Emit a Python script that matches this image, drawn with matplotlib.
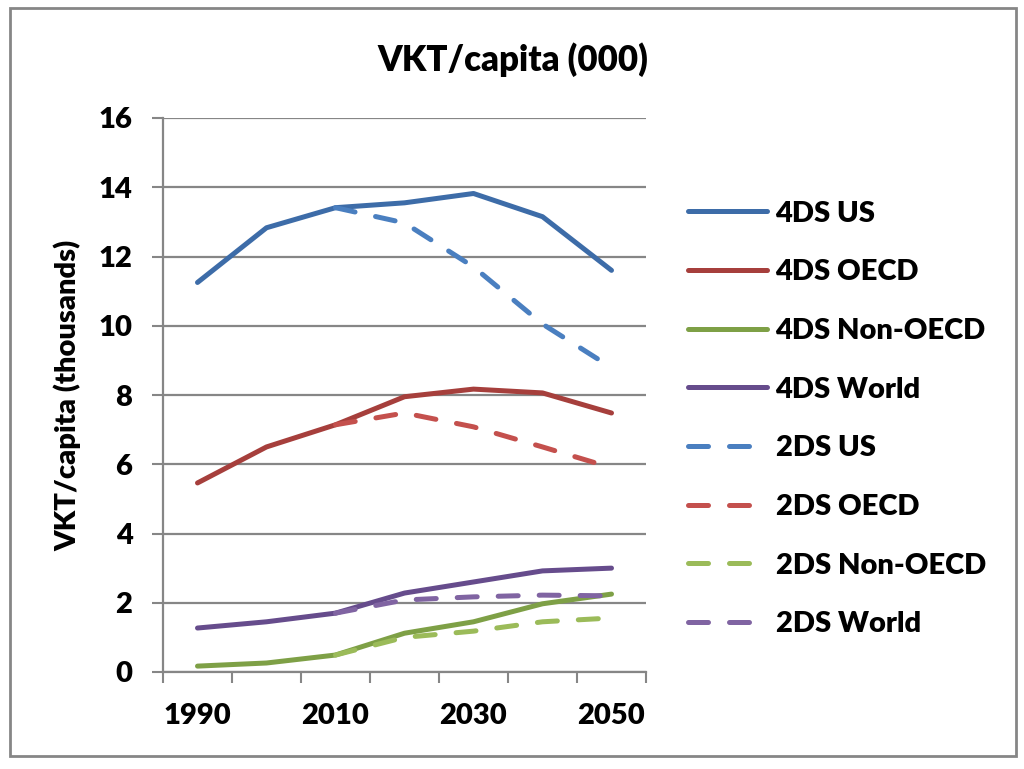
import matplotlib
matplotlib.use("Agg")
import matplotlib.pyplot as plt
from matplotlib.ticker import FixedLocator

plt.rcParams["font.family"] = ["Lato", "DejaVu Sans"]
plt.rcParams["font.weight"] = "heavy"

years = [1990, 2000, 2010, 2020, 2030, 2040, 2050]
year_labels = ["1990", "", "2010", "", "2030", "", "2050"]

us_4ds = [11.25, 12.83, 13.41, 13.55, 13.82, 13.15, 11.6]
oecd_4ds = [5.46, 6.5, 7.14, 7.95, 8.17, 8.06, 7.48]
non_oecd_4ds = [0.17, 0.26, 0.49, 1.12, 1.45, 1.97, 2.25]
world_4ds = [1.27, 1.45, 1.7, 2.28, 2.6, 2.92, 3.0]
us_2ds = [None, None, 13.41, 12.97, 11.7, 10.05, 8.79]
oecd_2ds = [None, None, 7.14, 7.48, 7.08, 6.5, 5.9]
non_oecd_2ds = [None, None, 0.49, 1.0, 1.18, 1.45, 1.56]
world_2ds = [None, None, 1.7, 2.08, 2.17, 2.22, 2.2]

dash = (0, (4, 4.2))
series = [
    ("4DS US", us_4ds, "#3D6CA8", "-"),
    ("4DS OECD", oecd_4ds, "#A63F3C", "-"),
    ("4DS Non-OECD", non_oecd_4ds, "#7EA046", "-"),
    ("4DS World", world_4ds, "#664C8C", "-"),
    ("2DS US", us_2ds, "#4A7FC0", dash),
    ("2DS OECD", oecd_2ds, "#C4504D", dash),
    ("2DS Non-OECD", non_oecd_2ds, "#9BBB59", dash),
    ("2DS World", world_2ds, "#8064A2", dash),
]

fig = plt.figure(figsize=(10.24, 7.69), dpi=100)
ax = fig.add_axes([163 / 1024, 1 - 672 / 769, (646 - 163) / 1024, (672 - 118) / 769])

xs = list(range(len(years)))
for name, vals, color, ls in series:
    pts = [(x, v) for x, v in zip(xs, vals) if v is not None]
    ax.plot([p[0] for p in pts], [p[1] for p in pts], color=color, linestyle=ls,
            linewidth=3.6, label=name, solid_capstyle="round", dash_capstyle="round")

ax.set_xlim(-0.5, len(years) - 0.5)
ax.set_ylim(0, 16)
ax.set_yticks(range(0, 17, 2))
ax.set_xticks(xs)
ax.set_xticklabels(year_labels)
ax.xaxis.set_minor_locator(FixedLocator([x - 0.5 for x in range(len(years) + 1)]))
ax.tick_params(axis="x", which="major", length=0, pad=22, labelsize=21)
ax.tick_params(axis="x", which="minor", length=8, width=1.5, color="#868686", direction="out")
ax.tick_params(axis="y", length=8, width=1.5, color="#868686", pad=14, labelsize=21)
ax.grid(axis="y", color="#868686", linewidth=1.6)
ax.set_axisbelow(True)
for s in ["top", "right"]:
    ax.spines[s].set_visible(False)
for s in ["left", "bottom"]:
    ax.spines[s].set_color("#868686")
    ax.spines[s].set_linewidth(1.6)

ax.set_ylabel("VKT/capita (thousands)", fontsize=21, fontweight="heavy", labelpad=12)
fig.text(513 / 1024, 1 - 60 / 769, "VKT/capita (000)", ha="center", va="center",
         fontsize=25, fontweight="heavy")

ax.legend(loc="center left", bbox_to_anchor=(688 / 1024, 1 - 419 / 769),
          bbox_transform=fig.transFigure, frameon=False, fontsize=21,
          borderpad=0, borderaxespad=0, handlelength=2.7, handletextpad=0.3,
          labelspacing=1.12)

fig.patches.append(plt.Rectangle((10 / 1024, 1 - 756 / 769), 1006 / 1024, 748 / 769,
                                 transform=fig.transFigure, fill=False,
                                 edgecolor="#868686", linewidth=2))

fig.savefig("out.png", dpi=100)
